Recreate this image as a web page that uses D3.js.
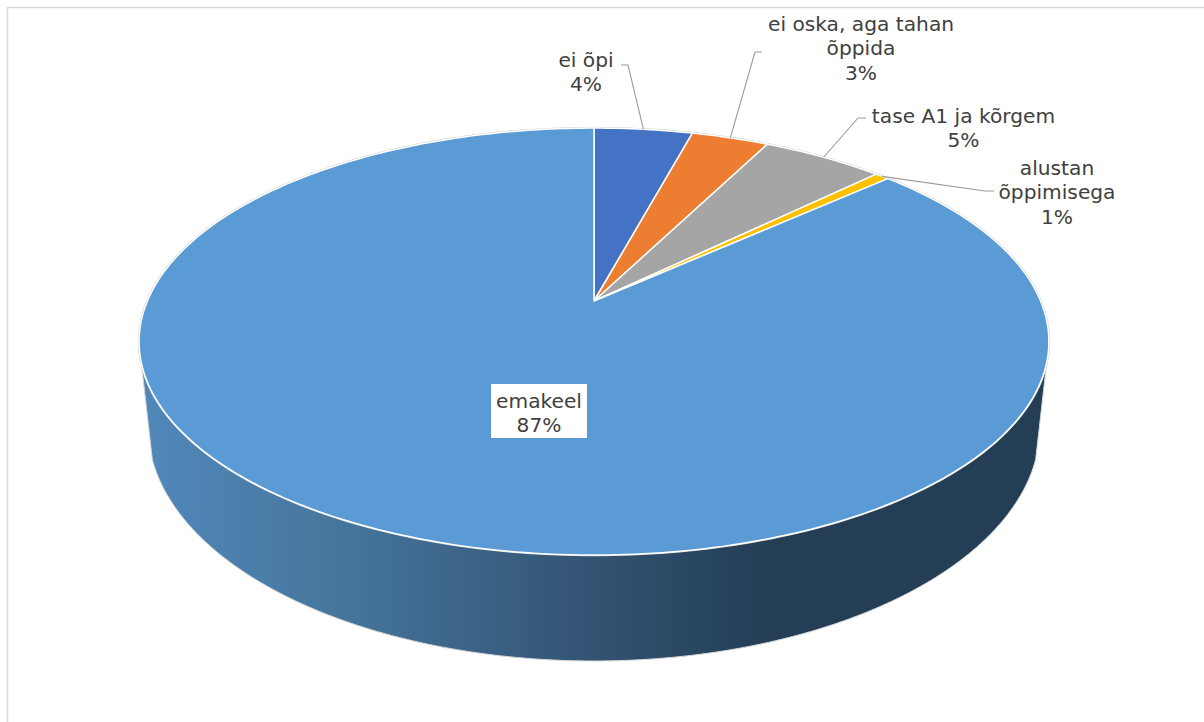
<!DOCTYPE html>
<html>
<head>
<meta charset="utf-8">
<script src="https://d3js.org/d3.v7.min.js"></script>
<style>
    html, body { margin: 0; padding: 0; background: #fff; }
    svg { display: block; }
    text { font-family: "DejaVu Sans", Verdana, sans-serif; font-size: 20.2px; fill: #404040; text-anchor: middle; }
</style>
</head>
<body>
<div id="chart"></div>
<script>
const categories = ['ei õpi', 'ei oska, aga tahan õppida', 'tase A1 ja kõrgem', 'alustan õppimisega', 'emakeel'];
const values = [4.2, 3.3, 5.2, 0.6, 86.7];
const percentLabels = ['4%', '3%', '5%', '1%', '87%'];
const sliceColors = ['#4472c4', '#ed7d31', '#a5a5a5', '#ffc000', '#5b9bd5'];

const width = 1204, height = 722;
const svg = d3.select('#chart').append('svg').attr('width', width).attr('height', height);

// frame of the chart area, only top and left are in view
svg.append('path')
    .attr('d', `M${width},7.5H7.5V${height}`)
    .attr('fill', 'none')
    .attr('stroke', '#d9d9d9')
    .attr('stroke-width', 1.5);

// perspective projection of the pie disc, angle 0 is at the back
const apex = { x: 594, y: 301 };
const persp = 0.19, scaleX = 446.6, scaleY = 205.8;
function project(a){
    const w = 1 + persp*Math.cos(a);
    return [apex.x + scaleX*Math.sin(a)/w, apex.y - scaleY*Math.cos(a)/w];
}
function bottomRim(a){
    return [594 + 446*Math.sin(a), 427 - 234*Math.cos(a)];
}
const line = d3.line();

const arcs = d3.pie().sort(null).value(d => d)(values);

// side wall
const defs = svg.append('defs');
const grad = defs.append('linearGradient')
    .attr('id', 'wall')
    .attr('gradientUnits', 'userSpaceOnUse')
    .attr('x1', 139).attr('x2', 1049).attr('y1', 0).attr('y2', 0);
grad.append('stop').attr('offset', 0).attr('stop-color', '#5188bb');
grad.append('stop').attr('offset', 0.2).attr('stop-color', '#47789f');
grad.append('stop').attr('offset', 0.5).attr('stop-color', '#335373');
grad.append('stop').attr('offset', 0.69).attr('stop-color', '#233e55');
grad.append('stop').attr('offset', 1).attr('stop-color', '#233e55');

const topFront = d3.range(101.5, 258.6, 1).map(d => project(d*Math.PI/180));
const botFront = d3.range(262, 97.9, -1).map(d => bottomRim(d*Math.PI/180));
svg.append('path')
    .attr('d', line(topFront.concat(botFront)) + 'Z')
    .attr('fill', 'url(#wall)')
    .attr('stroke', '#d6d6d6')
    .attr('stroke-width', 1);

// faint grey halo round the disc
svg.append('path')
    .attr('d', line(d3.range(0, 360, 1).map(d => project(d*Math.PI/180))) + 'Z')
    .attr('fill', 'none')
    .attr('stroke', '#cfcfcf')
    .attr('stroke-width', 2.4);

// top slices
const sliceG = svg.append('g').attr('class', 'slices');
sliceG.selectAll('path')
    .data(arcs)
    .join('path')
    .attr('d', d => {
        const n = Math.max(2, Math.ceil((d.endAngle - d.startAngle)*60));
        const rim = d3.range(n + 1).map(i => project(d.startAngle + (d.endAngle - d.startAngle)*i/n));
        return line([[apex.x, apex.y]].concat(rim)) + 'Z';
    })
    .attr('fill', (d, i) => sliceColors[i])
    .attr('stroke', '#fff')
    .attr('stroke-width', 1.5)
    .attr('stroke-linejoin', 'round');

// leader lines go from the middle of the slice rim to a knee next to the label
const leaders = [
    { i: 0, knee: [628, 65], end: [621, 65] },
    { i: 1, knee: [755, 52], end: [762, 52] },
    { i: 2, knee: [858, 118], end: [866, 118] },
    { i: 3, knee: [985, 191], end: [994, 191] }
];
svg.append('g').selectAll('path')
    .data(leaders)
    .join('path')
    .attr('d', d => {
        const a = arcs[d.i];
        return line([project((a.startAngle + a.endAngle)/2), d.knee, d.end]);
    })
    .attr('fill', 'none')
    .attr('stroke', '#9a9a9a')
    .attr('stroke-width', 1.1);

// labels
svg.append('rect')
    .attr('x', 491).attr('y', 384)
    .attr('width', 96).attr('height', 54)
    .attr('fill', '#fff');

const labelLines = [
    ['ei õpi', percentLabels[0]],
    ['ei oska, aga tahan', 'õppida', percentLabels[1]],
    ['tase A1 ja kõrgem', percentLabels[2]],
    ['alustan', 'õppimisega', percentLabels[3]],
    [categories[4], percentLabels[4]]
];
const labelPos = [[586, 67], [861, 31], [963.5, 123], [1057, 175], [539, 408]];
const lineHeight = 24.4;

svg.append('g').selectAll('text')
    .data(labelLines)
    .join('text')
    .attr('transform', (d, i) => `translate(${labelPos[i][0]},${labelPos[i][1]})`)
    .selectAll('tspan')
    .data(d => d)
    .join('tspan')
    .attr('x', 0)
    .attr('y', (d, i) => i*lineHeight)
    .text(d => d);
</script>
</body>
</html>
